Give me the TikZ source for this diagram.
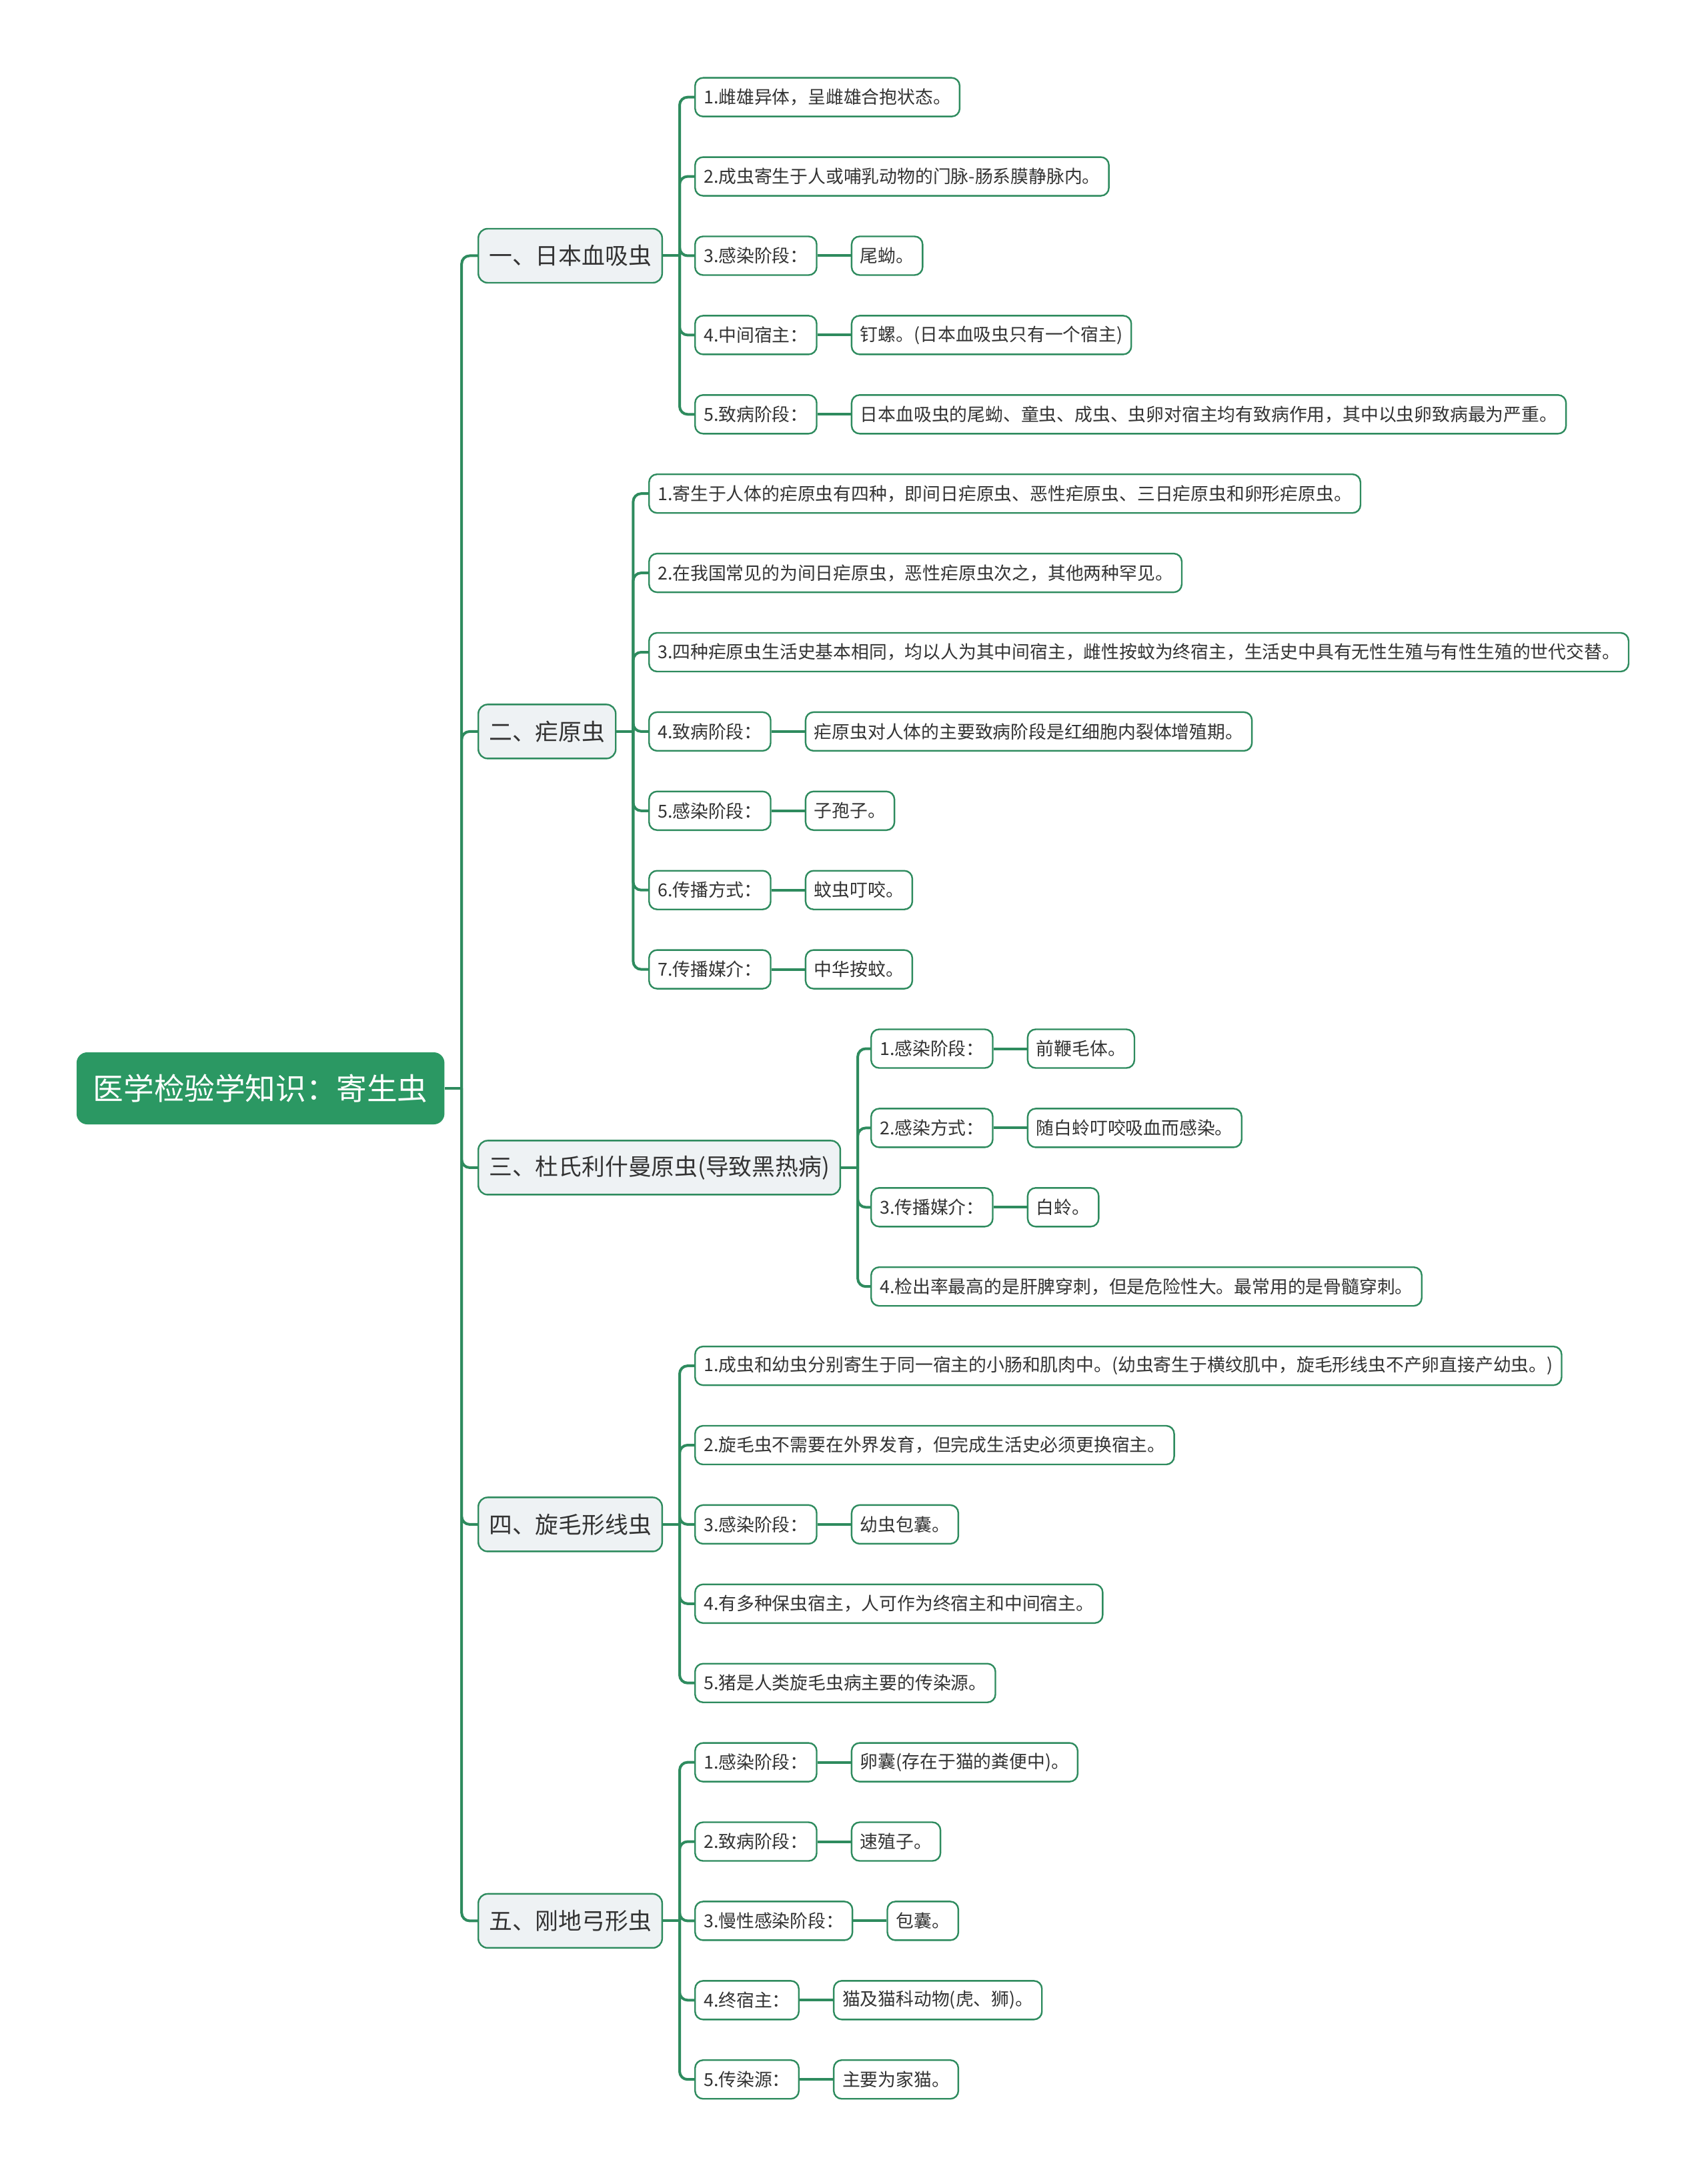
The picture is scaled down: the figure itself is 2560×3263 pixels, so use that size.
\documentclass[tikz,border=0pt]{standalone}
\usepackage{fontspec}
\setmainfont{Noto Sans CJK SC}
\usepackage{xcolor}
\usetikzlibrary{positioning}
\definecolor{rootg}{HTML}{2B9863}
\definecolor{lineg}{HTML}{2E8B5E}
\definecolor{topicbg}{HTML}{EEF2F4}
\definecolor{textc}{HTML}{333333}

\begin{document}
\begin{tikzpicture}[
  x=0.25pt, y=-0.25pt,
  root/.style={fill=rootg, rounded corners=4pt, text=white, anchor=west, minimum height=27pt, inner xsep=6.25pt, font=\fontsize{11.4pt}{13pt}\selectfont},
  topic/.style={draw=lineg, line width=0.6pt, fill=topicbg, rounded corners=3.5pt, text=textc, anchor=west, minimum height=20.25pt, inner xsep=4pt, inner ysep=2pt, font=\fontsize{8.7pt}{10pt}\selectfont},
  item/.style={draw=lineg, line width=0.6pt, fill=white, rounded corners=3pt, text=textc, anchor=west, minimum height=14.5pt, inner xsep=3.25pt, inner ysep=2pt, font=\fontsize{6.7pt}{8pt}\selectfont},
  link/.style={draw=lineg, line width=1pt, rounded corners=3pt}
]
\fill[white] (0,0) rectangle (2560,3263);
\node[root] (root) at (114,1632) {医学检验学知识：寄生虫};
\node[topic] (t1) at (716,383.5) {一、日本血吸虫};
\node[topic] (t2) at (716,1096.9) {二、疟原虫};
\node[topic] (t3) at (716,1750.9) {三、杜氏利什曼原虫(导致黑热病)};
\node[topic] (t4) at (716,2285.9) {四、旋毛形线虫};
\node[topic] (t5) at (716,2880.4) {五、刚地弓形虫};

\node[item] (a1) at (1041,145.7) {1.雌雄异体，呈雌雄合抱状态。};
\node[item] (a2) at (1041,264.6) {2.成虫寄生于人或哺乳动物的门脉-肠系膜静脉内。};
\node[item] (a3) at (1041,383.5) {3.感染阶段：};
\node[item] (a4) at (1041,502.4) {4.中间宿主：};
\node[item] (a5) at (1041,621.3) {5.致病阶段：};
\node[item, right=12.5pt of a3] (a3d) {尾蚴。};
\node[item, right=12.5pt of a4] (a4d) {钉螺。(日本血吸虫只有一个宿主)};
\node[item, right=12.5pt of a5] (a5d) {日本血吸虫的尾蚴、童虫、成虫、虫卵对宿主均有致病作用，其中以虫卵致病最为严重。};

\node[item] (b1) at (972,740.2) {1.寄生于人体的疟原虫有四种，即间日疟原虫、恶性疟原虫、三日疟原虫和卵形疟原虫。};
\node[item] (b2) at (972,859.1) {2.在我国常见的为间日疟原虫，恶性疟原虫次之，其他两种罕见。};
\node[item] (b3) at (972,978.0) {3.四种疟原虫生活史基本相同，均以人为其中间宿主，雌性按蚊为终宿主，生活史中具有无性生殖与有性生殖的世代交替。};
\node[item] (b4) at (972,1096.9) {4.致病阶段：};
\node[item] (b5) at (972,1215.8) {5.感染阶段：};
\node[item] (b6) at (972,1334.7) {6.传播方式：};
\node[item] (b7) at (972,1453.6) {7.传播媒介：};
\node[item, right=12.5pt of b4] (b4d) {疟原虫对人体的主要致病阶段是红细胞内裂体增殖期。};
\node[item, right=12.5pt of b5] (b5d) {子孢子。};
\node[item, right=12.5pt of b6] (b6d) {蚊虫叮咬。};
\node[item, right=12.5pt of b7] (b7d) {中华按蚊。};

\node[item] (c1) at (1305,1572.5) {1.感染阶段：};
\node[item] (c2) at (1305,1691.4) {2.感染方式：};
\node[item] (c3) at (1305,1810.3) {3.传播媒介：};
\node[item] (c4) at (1305,1929.2) {4.检出率最高的是肝脾穿刺，但是危险性大。最常用的是骨髓穿刺。};
\node[item, right=12.5pt of c1] (c1d) {前鞭毛体。};
\node[item, right=12.5pt of c2] (c2d) {随白蛉叮咬吸血而感染。};
\node[item, right=12.5pt of c3] (c3d) {白蛉。};

\node[item] (d1) at (1041,2048.1) {1.成虫和幼虫分别寄生于同一宿主的小肠和肌肉中。(幼虫寄生于横纹肌中，旋毛形线虫不产卵直接产幼虫。)};
\node[item] (d2) at (1041,2167.0) {2.旋毛虫不需要在外界发育，但完成生活史必须更换宿主。};
\node[item] (d3) at (1041,2285.9) {3.感染阶段：};
\node[item] (d4) at (1041,2404.8) {4.有多种保虫宿主，人可作为终宿主和中间宿主。};
\node[item] (d5) at (1041,2523.7) {5.猪是人类旋毛虫病主要的传染源。};
\node[item, right=12.5pt of d3] (d3d) {幼虫包囊。};

\node[item] (e1) at (1041,2642.6) {1.感染阶段：};
\node[item] (e2) at (1041,2761.5) {2.致病阶段：};
\node[item] (e3) at (1041,2880.4) {3.慢性感染阶段：};
\node[item] (e4) at (1041,2999.3) {4.终宿主：};
\node[item] (e5) at (1041,3118.2) {5.传染源：};
\node[item, right=12.5pt of e1] (e1d) {卵囊(存在于猫的粪便中)。};
\node[item, right=12.5pt of e2] (e2d) {速殖子。};
\node[item, right=12.5pt of e3] (e3d) {包囊。};
\node[item, right=12.5pt of e4] (e4d) {猫及猫科动物(虎、狮)。};
\node[item, right=12.5pt of e5] (e5d) {主要为家猫。};

\coordinate (rt) at ([xshift=6.25pt]root.east);
\draw[link] (root.east) -- (rt);
\foreach \n in {t1,t2,t3,t4,t5} \draw[link] (rt) |- (\n.west);
\foreach \t/\k/\list in {t1/k1/{a1,a2,a3,a4,a5}, t2/k2/{b1,b2,b3,b4,b5,b6,b7}, t3/k3/{c1,c2,c3,c4}, t4/k4/{d1,d2,d3,d4,d5}, t5/k5/{e1,e2,e3,e4,e5}} {
  \coordinate (\k) at ([xshift=6.25pt]\t.east);
  \draw[link] (\t.east) -- (\k);
  \foreach \n in \list \draw[link] (\k) |- (\n.west);
}
\foreach \a/\b in {a3/a3d, a4/a4d, a5/a5d, b4/b4d, b5/b5d, b6/b6d, b7/b7d, c1/c1d, c2/c2d, c3/c3d, d3/d3d, e1/e1d, e2/e2d, e3/e3d, e4/e4d, e5/e5d}
  \draw[link] (\a) -- (\b);
\end{tikzpicture}
\end{document}
